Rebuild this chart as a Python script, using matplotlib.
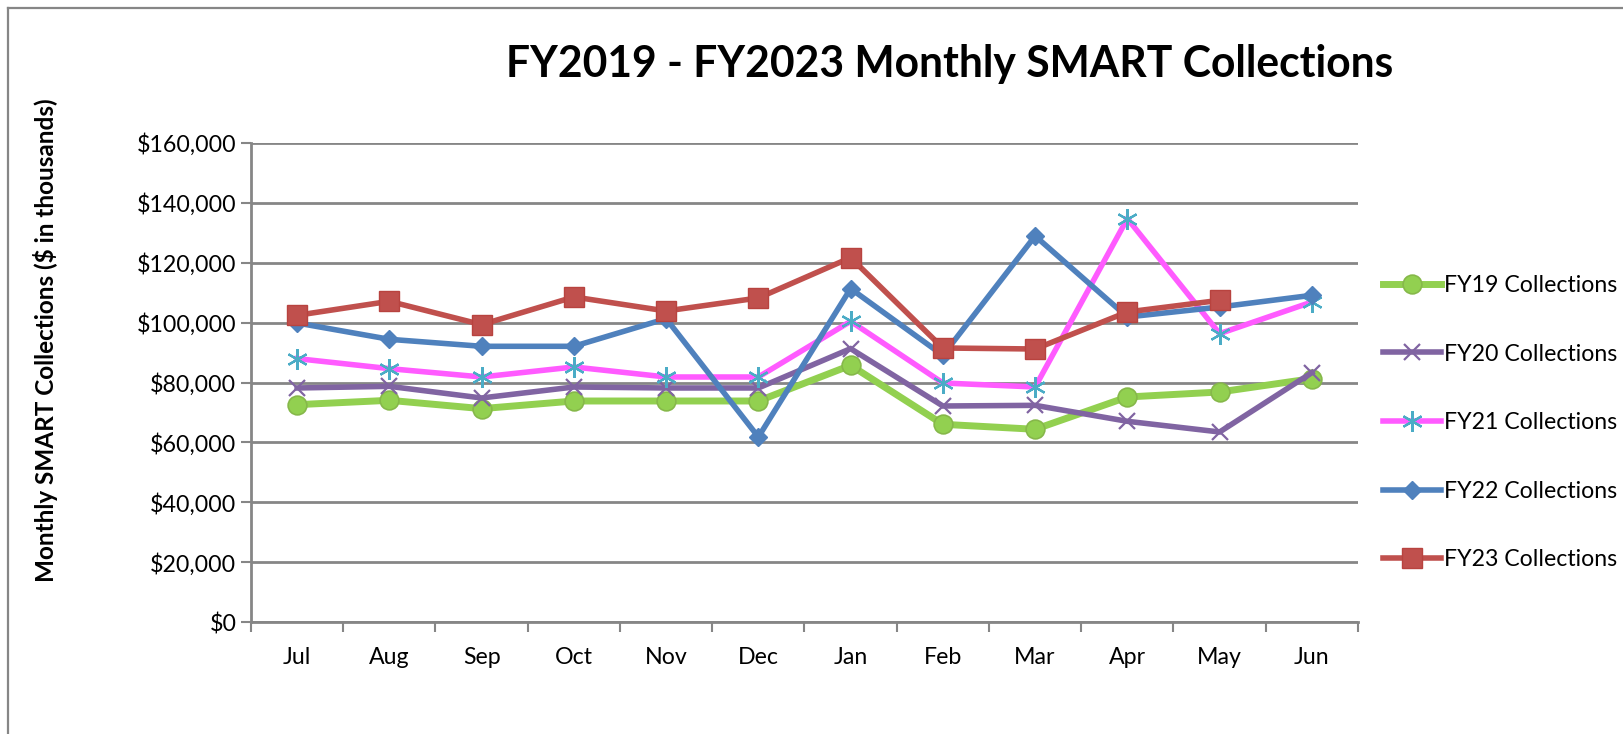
import matplotlib
matplotlib.use("Agg")
import matplotlib.pyplot as plt
from matplotlib.lines import Line2D
from matplotlib.ticker import FuncFormatter, MultipleLocator
import numpy as np

months = ["Jul", "Aug", "Sep", "Oct", "Nov", "Dec", "Jan", "Feb", "Mar", "Apr", "May", "Jun"]
fy19 = [72600, 74050, 71270, 73820, 73820, 73820, 85740, 66040, 64370, 75160, 76830, 81290]
fy20 = [78170, 78720, 74830, 78500, 78170, 78170, 91310, 72150, 72370, 67040, 63470, 83290]
fy21 = [87980, 84630, 81840, 85190, 81840, 81840, 100440, 79840, 78500, 134740, 96320, 106890]
fy22 = [99880, 94430, 92090, 92090, 101330, 61800, 111360, 89080, 128940, 101880, 105220, 109130]
fy23 = [102450, 107120, 99330, 108570, 103890, 108240, 121710, 91530, 91190, 103560, 107450]
labels = ["FY19 Collections", "FY20 Collections", "FY21 Collections", "FY22 Collections", "FY23 Collections"]

W, H, DPI = 1624, 734, 100
fig = plt.figure(figsize=(W / DPI, H / DPI), dpi=DPI)
plt.rcParams['font.family'] = ['Lato', 'DejaVu Sans']

ax_left, ax_right, ax_top, ax_bottom = 251, 1358, 143, 622
ax = fig.add_axes([ax_left / W, 1 - ax_bottom / H, (ax_right - ax_left) / W, (ax_bottom - ax_top) / H])

grid_c = "#868686"
x = np.arange(len(months)) + 0.5

styles = [
    dict(color="#92D050", lw=5.0, marker="o", ms=13.5, mfc="#92D050", mec="#86B84A", mew=1.2),
    dict(color="#8064A2", lw=4.0, marker="x", ms=12, mfc="#8064A2", mec="#8064A2", mew=1.6),
    dict(color="#FF5BFF", lw=4.0, marker=(6, 2, 0), ms=15, mfc="#4BACC6", mec="#4BACC6", mew=1.6),
    dict(color="#4F81BD", lw=4.0, marker="D", ms=9.5, mfc="#4F81BD", mec="#4F81BD", mew=1),
    dict(color="#C0504D", lw=4.0, marker="s", ms=14.5, mfc="#C0504D", mec="#B8433F", mew=1),
]
series = [fy19, fy20, fy21, fy22, fy23]
handles = []
for s, st, lab in zip(series, styles, labels):
    h, = ax.plot(x[:len(s)], s, label=lab, solid_joinstyle="miter", zorder=3, **st)
    handles.append(h)

ax.set_xlim(0, 12)
ax.set_ylim(0, 160000)
ax.yaxis.set_major_locator(MultipleLocator(20000))
ax.yaxis.set_major_formatter(FuncFormatter(lambda v, p: "${:,.0f}".format(v)))
ax.grid(axis="y", color=grid_c, lw=2, zorder=1)
ax.set_axisbelow(True)

fs = 16.7
ax.set_xticks(np.arange(0, 13))
ax.set_xticklabels([])
ax.set_xticks(x, minor=True)
ax.set_xticklabels(months, minor=True)
ax.tick_params(axis="x", which="major", length=7, width=1.5, color=grid_c, direction="out")
ax.tick_params(axis="x", which="minor", length=0, pad=18, labelsize=fs, labelcolor="#000000")
ax.tick_params(axis="y", length=7, width=1.5, color=grid_c, direction="out", pad=3.5, labelsize=fs)

for side in ["top", "right"]:
    ax.spines[side].set_visible(False)
for side in ["left", "bottom"]:
    ax.spines[side].set_color(grid_c)
    ax.spines[side].set_linewidth(2)

fig.text(950 / W, 1 - 64 / H, "FY2019 - FY2023 Monthly SMART Collections", ha="center", va="center",
         fontsize=30.7, fontweight="bold")
fig.text(46 / W, 1 - 340 / H, "Monthly SMART Collections ($ in thousands)", rotation=90, ha="center",
         va="center", fontsize=17.5, fontweight="bold")

leg = fig.legend(handles=handles, loc="upper left", bbox_to_anchor=(1383 / W, 1 - 275 / H), frameon=False,
                 fontsize=fs, handlelength=2.5, handletextpad=0.15, labelspacing=2.05, borderaxespad=0,
                 borderpad=0)

# outer chart border (top & left visible)
fig.add_artist(Line2D([8 / W, 8 / W], [1 - 8 / H, 0], transform=fig.transFigure, color=grid_c, lw=1.6))
fig.add_artist(Line2D([8 / W, 1], [1 - 8 / H, 1 - 8 / H], transform=fig.transFigure, color=grid_c, lw=1.6))

fig.savefig("out.png", dpi=DPI)
